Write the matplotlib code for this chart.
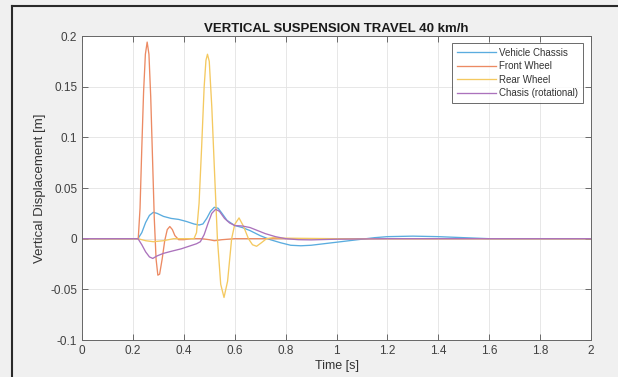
import matplotlib
matplotlib.use('Agg')
import matplotlib.pyplot as plt
from matplotlib.lines import Line2D

plt.rcParams['font.family'] = ['Liberation Sans', 'DejaVu Sans']

# Datos
t_chassis = [0, 0.22, 0.235, 0.25, 0.265, 0.28, 0.295, 0.32, 0.35, 0.38, 0.41, 0.44,
             0.46, 0.475, 0.49, 0.505, 0.52, 0.535, 0.55, 0.57, 0.6, 0.63, 0.66, 0.7,
             0.74, 0.78, 0.82, 0.86, 0.9, 0.95, 1.0, 1.05, 1.1, 1.15, 1.2, 1.3, 1.4,
             1.5, 1.6, 2.0]
y_chassis = [0, 0, 0.006, 0.016, 0.023, 0.026, 0.025, 0.022, 0.020, 0.019, 0.017, 0.0145,
             0.0135, 0.0145, 0.020, 0.027, 0.031, 0.030, 0.025, 0.018, 0.013, 0.011, 0.008, 0.003,
             -0.001, -0.004, -0.0065, -0.007, -0.0065, -0.005, -0.0035, -0.002, -0.0005, 0.001, 0.002, 0.0025, 0.002,
             0.001, 0.0, 0]

t_front = [0, 0.221, 0.228, 0.235, 0.242, 0.249, 0.256, 0.263, 0.270, 0.277, 0.284,
           0.291, 0.298, 0.305, 0.315, 0.325, 0.335, 0.345, 0.355, 0.365, 0.38, 0.40,
           0.43, 0.47, 0.50, 0.52, 0.55, 0.6, 2.0]
y_front = [0, 0, 0.03, 0.09, 0.145, 0.182, 0.194, 0.182, 0.14, 0.08, 0.02,
           -0.02, -0.036, -0.035, -0.02, -0.002, 0.009, 0.012, 0.009, 0.003, -0.001, -0.001,
           0.0, 0.0, -0.001, -0.002, -0.001, 0.0, 0]

t_rear = [0, 0.22, 0.25, 0.28, 0.32, 0.36, 0.44, 0.45, 0.46, 0.47, 0.48, 0.487, 0.493,
          0.5, 0.51, 0.52, 0.532, 0.545, 0.558, 0.572, 0.588, 0.60, 0.617, 0.635, 0.654,
          0.67, 0.686, 0.705, 0.725, 0.75, 0.8, 1.0, 2.0]
y_rear = [0, 0, -0.002, -0.003, -0.002, 0.0, 0.0, 0.006, 0.035, 0.09, 0.15, 0.176, 0.182,
          0.175, 0.13, 0.07, 0.0, -0.045, -0.058, -0.042, 0.0, 0.014, 0.0205, 0.012, 0.0,
          -0.006, -0.0075, -0.004, 0.0, 0.001, 0.0005, 0, 0]

t_rot = [0, 0.22, 0.235, 0.25, 0.265, 0.278, 0.295, 0.32, 0.35, 0.39, 0.42, 0.45, 0.465,
         0.48, 0.495, 0.51, 0.525, 0.54, 0.56, 0.58, 0.6, 0.63, 0.66, 0.69, 0.72, 0.76,
         0.8, 0.85, 0.9, 1.0, 1.2, 2.0]
y_rot = [0, 0, -0.006, -0.013, -0.018, -0.0195, -0.017, -0.0145, -0.0125, -0.010, -0.0075, -0.005, -0.003,
         0.004, 0.015, 0.025, 0.029, 0.027, 0.020, 0.0155, 0.013, 0.0125, 0.011, 0.008, 0.005, 0.002,
         0.0, -0.001, -0.0012, -0.0005, 0.0, 0]

labels = ['Vehicle Chassis', 'Front Wheel', 'Rear Wheel', 'Chasis (rotational)']
colores = ['#5AACDF', '#EC8A63', '#F4C960', '#AB72BC']

fig = plt.figure(figsize=(6.18, 3.77), dpi=100, facecolor='#f0f0f0')
ax = fig.add_axes([0.1327, 0.0981, 0.8236, 0.8064])

ax.plot(t_chassis, y_chassis, color=colores[0], lw=0.95, label=labels[0])
ax.plot(t_front, y_front, color=colores[1], lw=0.95, label=labels[1])
ax.plot(t_rear, y_rear, color=colores[2], lw=0.95, label=labels[2])
ax.plot(t_rot, y_rot, color=colores[3], lw=0.95, label=labels[3])

ax.set_xlim(0, 2)
ax.set_ylim(-0.1, 0.2)
ax.set_xticks([0, 0.2, 0.4, 0.6, 0.8, 1, 1.2, 1.4, 1.6, 1.8, 2])
ax.set_xticklabels(['0', '0.2', '0.4', '0.6', '0.8', '1', '1.2', '1.4', '1.6', '1.8', '2'])
ax.set_yticks([-0.1, -0.05, 0, 0.05, 0.1, 0.15, 0.2])
ax.set_yticklabels(['-0.1', '-0.05', '0', '0.05', '0.1', '0.15', '0.2'])
ax.tick_params(direction='in', length=4, width=0.6, top=True, right=True,
               labelsize=8.5, colors='#555555', labelcolor='#404040')
for s in ax.spines.values():
    s.set_color('#666666')
    s.set_linewidth(0.7)
ax.grid(True, color='#e3e3e3', lw=0.6)
ax.set_axisbelow(True)

ax.set_title('VERTICAL SUSPENSION TRAVEL 40 km/h', fontsize=9.5, fontweight='bold',
             color='#1a1a1a', pad=3)
ax.set_xlabel('Time [s]', fontsize=9, color='#333333', labelpad=2)
ax.set_ylabel('Vertical Displacement [m]', fontsize=9.5, color='#333333', labelpad=3)

leg = ax.legend(loc='upper right', bbox_to_anchor=(0.984, 0.977), borderaxespad=0,
                fontsize=7, fancybox=False, handlelength=4.0, labelspacing=0.35,
                handletextpad=0.3, borderpad=0.5)
leg.get_frame().set_edgecolor('#444444')
leg.get_frame().set_linewidth(0.7)
for txt in leg.get_texts():
    txt.set_color('#333333')

# marco oscuro arriba e izquierda
fig.add_artist(Line2D([12 / 618, 12 / 618], [0, 1 - 6 / 377], color='#2a2a2a', lw=1.5))
fig.add_artist(Line2D([12 / 618, 1], [1 - 6 / 377, 1 - 6 / 377], color='#2a2a2a', lw=1.5))

fig.savefig('out.png', dpi=100, facecolor=fig.get_facecolor())
